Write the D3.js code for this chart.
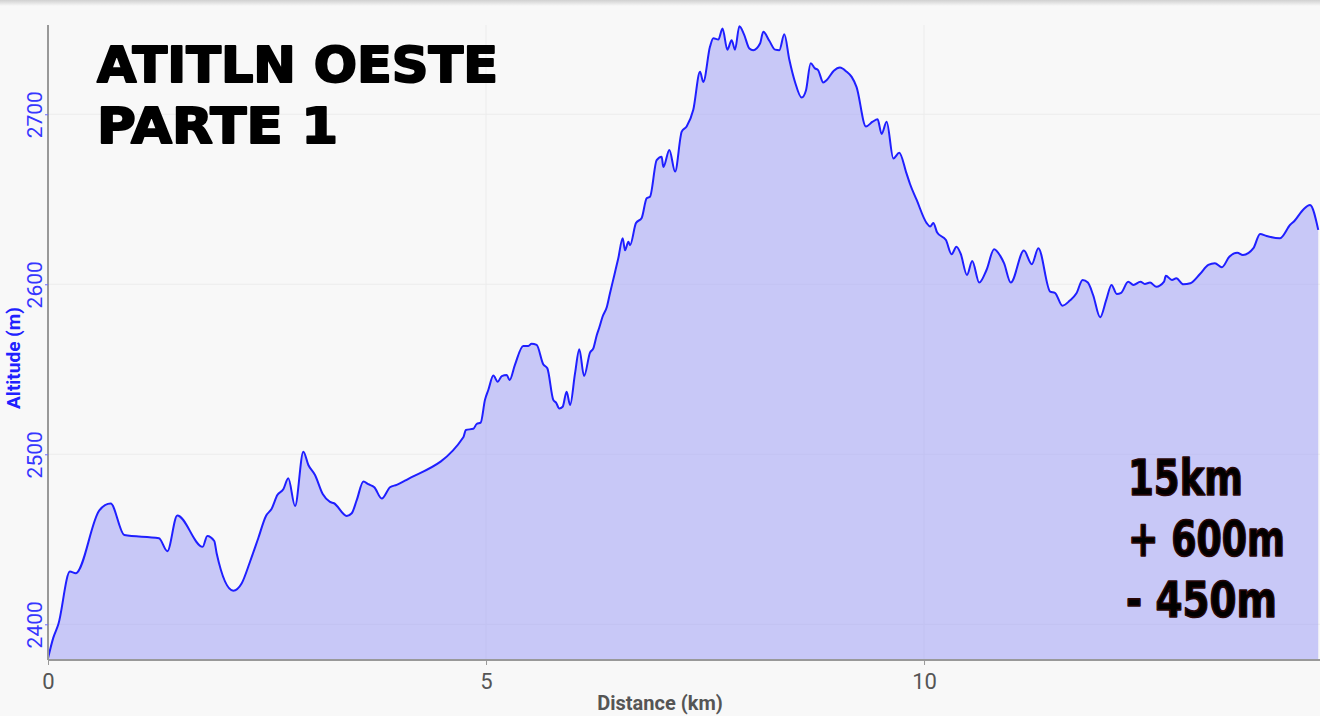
<!DOCTYPE html>
<html>
<head>
<meta charset="utf-8">
<script src="https://cdn.jsdelivr.net/npm/d3@7"></script>
<style>
html,body{margin:0;padding:0;background:#f8f8f8;}
svg{display:block;}
</style>
</head>
<body>
<svg id="chart" width="1320" height="716"></svg>
<script>
const distanceKm = [0,0.06,0.118,0.25,0.316,0.586,0.715,0.871,1.267,1.362,1.476,1.766,1.818,1.898,1.925,2.115,2.21,2.306,2.40,2.488,2.553,2.618,2.686,2.743,2.82,2.915,2.972,3.048,3.136,3.219,3.265,3.41,3.467,3.524,3.6,3.657,3.725,3.81,3.904,3.98,4.094,4.741,4.77,4.855,4.893,4.939,4.988,5.026,5.084,5.133,5.18,5.236,5.27,5.33,5.425,5.483,5.52,5.578,5.653,5.70,5.768,5.799,5.837,5.875,5.92,5.96,6.016,6.065,6.119,6.187,6.225,6.264,6.294,6.33,6.38,6.415,6.465,6.51,6.56,6.587,6.625,6.644,6.712,6.777,6.834,6.872,6.948,7.005,7.024,7.093,7.158,7.234,7.29,7.366,7.443,7.48,7.557,7.595,7.652,7.7,7.755,7.804,7.842,7.892,7.945,8.006,8.05,8.128,8.165,8.234,8.30,8.348,8.405,8.462,8.527,8.603,8.652,8.706,8.755,8.79,8.85,8.887,8.97,9.04,9.117,9.174,9.23,9.337,9.413,9.47,9.516,9.573,9.65,9.717,9.80,9.84,9.916,10.03,10.07,10.106,10.15,10.25,10.315,10.37,10.418,10.49,10.55,10.63,10.713,10.8,10.87,10.913,10.99,11.14,11.23,11.305,11.44,11.494,11.58,11.664,11.74,11.81,11.87,11.93,12.01,12.08,12.14,12.20,12.25,12.33,12.39,12.47,12.52,12.58,12.65,12.74,12.76,12.83,12.88,12.96,13.04,13.15,13.245,13.32,13.40,13.485,13.575,13.64,13.76,13.836,13.91,14.06,14.18,14.23,14.33,14.406,14.5];
const altitudeM = [2380,2392,2400,2431,2430,2467,2471,2452.5,2450.6,2443,2464,2445.6,2452,2449,2441.8,2419.8,2424,2436.8,2450.6,2463.7,2468,2476,2479.4,2485.9,2469.6,2501.5,2493.7,2487.8,2476.6,2472,2471.2,2463.7,2465.3,2473,2484,2482.4,2480.6,2474,2480.6,2482,2485,2510,2514.3,2515,2517.8,2518.6,2532,2537.8,2546.3,2542.7,2546,2546.6,2543.7,2552.6,2563.7,2563.7,2565,2564.3,2553,2550.6,2532,2530.4,2527,2528,2536.8,2529,2547.6,2561.8,2546,2559.8,2562.3,2570,2574.7,2580.9,2586.8,2594.7,2605.5,2615.3,2627,2620,2625,2623,2636,2639,2650.6,2651.5,2673,2675,2669,2679,2666.3,2689.8,2692.8,2702.6,2725,2719,2739.8,2744.7,2744,2750.5,2738,2743.6,2738,2751.8,2747,2738.7,2737.7,2741.6,2748.5,2743.2,2738,2737.7,2747,2732.2,2719,2709.8,2714,2730,2727,2726,2718.7,2720,2725.6,2727.5,2725,2722,2716,2692.8,2695.6,2697,2688.4,2695.6,2674,2677.4,2665.2,2659,2649.6,2636,2634,2636,2630.4,2626,2617.7,2622,2618,2605.5,2613.7,2601,2608.4,2620.6,2616.7,2612.4,2601,2619.8,2611.8,2621.2,2595.7,2595,2587.4,2590.4,2594.7,2602.5,2601,2593.7,2580.6,2590.8,2599.6,2594.3,2595,2601.5,2599.6,2601.5,2600.2,2601,2598.6,2601.6,2605,2602.5,2603.5,2600,2600.6,2606,2611.4,2612.4,2610,2616.2,2618.6,2617.2,2621.2,2629.6,2628.4,2627,2635,2637.4,2644,2646.6,2632];
const xTicks = [0,5,10];
const yTicks = [2400,2500,2600,2700];
const titleLines = ["ATITLN OESTE","PARTE 1"];
const statLines = ["15km","+ 600m","- 450m"];

const data = distanceKm.map((d,i)=>({d, a: altitudeM[i]}));
const svg = d3.select("#chart");
const W = 1320, H = 716;
const x = d3.scaleLinear().domain([0,14.52]).range([48,1320]);
const y = d3.scaleLinear().domain([2379,2752.5]).range([660,25]);

// top shadow
const defs = svg.append("defs");
const g0 = defs.append("linearGradient").attr("id","topShadow").attr("x1",0).attr("x2",0).attr("y1",0).attr("y2",1);
g0.append("stop").attr("offset","0%").attr("stop-color","#d0d0d0");
g0.append("stop").attr("offset","100%").attr("stop-color","#f8f8f8");
svg.append("rect").attr("x",0).attr("y",0).attr("width",W).attr("height",6).attr("fill","url(#topShadow)");

// grid
svg.append("g").selectAll("line").data(yTicks).join("line")
  .attr("x1",48).attr("x2",1320).attr("y1",d=>y(d)).attr("y2",d=>y(d))
  .attr("stroke","#ececec").attr("stroke-width",1);
svg.append("g").selectAll("line").data(xTicks.filter(t=>t>0)).join("line")
  .attr("x1",d=>x(d)).attr("x2",d=>x(d)).attr("y1",25).attr("y2",660)
  .attr("stroke","#ececec").attr("stroke-width",1);

// area + line
const area = d3.area().x(d=>x(d.d)).y0(660).y1(d=>y(d.a)).curve(d3.curveMonotoneX);
const line = d3.line().x(d=>x(d.d)).y(d=>y(d.a)).curve(d3.curveMonotoneX);
svg.append("path").datum(data).attr("d",area).attr("fill","rgba(160,160,245,0.55)");
svg.append("path").datum(data).attr("d",line).attr("fill","none").attr("stroke","#1f1fff").attr("stroke-width",2);

// axes
const xAxis = d3.axisBottom(x).tickValues(xTicks).tickSize(5).tickFormat(d3.format("d"));
const gx = svg.append("g").attr("transform","translate(0,660)").call(xAxis);
gx.attr("font-size",null).attr("font-family",null);
gx.select(".domain").attr("stroke","#999").attr("stroke-width",2).attr("d","M48,0H1320");
gx.selectAll(".tick line").attr("stroke","#999");
gx.selectAll(".tick text").attr("fill","#555").style("font-family","Roboto, 'Noto Sans', sans-serif").style("font-size","22px").attr("y",11).attr("dy","0.82em");

const yAxis = d3.axisLeft(y).tickValues(yTicks).tickSize(3).tickFormat(d3.format("d"));
const gy = svg.append("g").attr("transform","translate(48,0)").call(yAxis);
gy.attr("font-size",null).attr("font-family",null);
gy.select(".domain").attr("stroke","#999").attr("stroke-width",2).attr("d","M0,25V660");
gy.selectAll(".tick line").attr("stroke","#6a6aff");
gy.selectAll(".tick text").attr("fill","#3535ff").style("font-family","Roboto, 'Noto Sans', sans-serif").style("font-size","21px")
  .attr("x",0).attr("y",0).attr("dy",0).attr("text-anchor","middle")
  .attr("transform","translate(-6,0) rotate(-90)");

svg.append("text").attr("transform","translate(20,358) rotate(-90)").attr("text-anchor","middle")
  .attr("fill","#2020ff").attr("font-family","Roboto, 'Noto Sans', sans-serif").attr("font-weight","bold").attr("font-size",19)
  .text("Altitude (m)");
svg.append("text").attr("x",660).attr("y",710).attr("text-anchor","middle")
  .attr("fill","#555").attr("font-family","Roboto, 'Noto Sans', sans-serif").attr("font-weight","bold").attr("font-size",20)
  .text("Distance (km)");

// title
const titleY = [82,143], titleW = [401,241];
svg.append("g").selectAll("text").data(titleLines).join("text")
  .attr("x",97).attr("y",(d,i)=>titleY[i])
  .attr("textLength",(d,i)=>titleW[i]).attr("lengthAdjust","spacingAndGlyphs")
  .attr("font-family","'DejaVu Sans', sans-serif").attr("font-weight","bold").attr("font-size",50)
  .attr("fill","#000").attr("stroke","#000").attr("stroke-width",2).attr("stroke-linejoin","round")
  .text(d=>d);

// stats (scaled horizontally to match the reference widths)
const statX = [1128,1128,1126], statY = [495,556,617], statW = [115,157,151];
svg.append("g").selectAll("text").data(statLines).join("text")
  .attr("x",0).attr("y",0)
  .attr("font-family","'Liberation Sans Narrow','DejaVu Sans Condensed', sans-serif").attr("font-weight","bold").attr("font-size",50)
  .attr("fill","#000").attr("stroke","#2a0808").attr("stroke-width",1.6).attr("stroke-linejoin","round")
  .text(d=>d)
  .each(function(d,i){
    const w = this.getComputedTextLength();
    const s = statW[i]/w;
    d3.select(this).attr("transform",`translate(${statX[i]},${statY[i]}) scale(${s},1)`);
  });
</script>
</body>
</html>
